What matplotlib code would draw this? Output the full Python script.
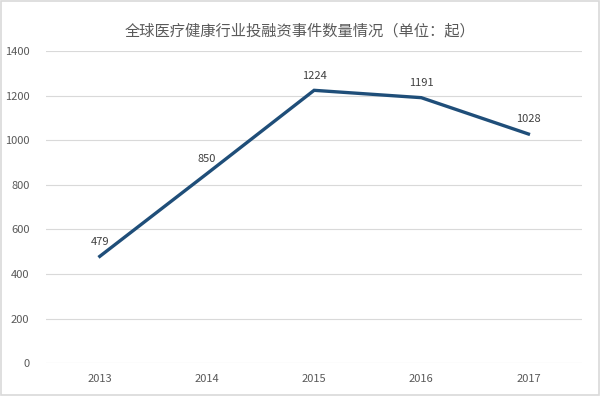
import matplotlib.pyplot as plt

plt.rcParams['font.family'] = ['Noto Sans CJK SC', 'DejaVu Sans']

years = ['2013', '2014', '2015', '2016', '2017']
counts = [479, 850, 1224, 1191, 1028]

fig = plt.figure(figsize=(6.0, 3.96), dpi=100)
ax = fig.add_axes([0.077, 0.083, 0.893, 0.788])

x = range(len(years))
ax.plot(x, counts, color='#1f4e79', linewidth=2.4, solid_joinstyle='miter')
for xi, v in zip(x, counts):
    ax.annotate(str(v), (xi, v), xytext=(0, 7), textcoords='offset points',
                ha='center', va='bottom', fontsize=8, color='#404040')

ax.set_xlim(-0.5, len(years) - 0.5)
ax.set_ylim(0, 1400)
ax.set_yticks(range(0, 1401, 200))
ax.set_xticks(list(x))
ax.set_xticklabels(years)
ax.grid(axis='y', color='#d9d9d9', linewidth=0.8)
ax.set_axisbelow(True)
for s in ax.spines.values():
    s.set_visible(False)
ax.tick_params(length=0, labelsize=8, labelcolor='#595959')
ax.tick_params(axis='x', pad=8)
ax.tick_params(axis='y', pad=12)

fig.text(0.5, 0.922, '全球医疗健康行业投融资事件数量情况（单位：起）',
         ha='center', va='center', fontsize=11, color='#595959')

fig.patches.append(plt.Rectangle((0.002, 0.003), 0.996, 0.994, transform=fig.transFigure,
                                 fill=False, edgecolor='#d9d9d9', linewidth=1.2))

fig.savefig('out.png', dpi=100)
